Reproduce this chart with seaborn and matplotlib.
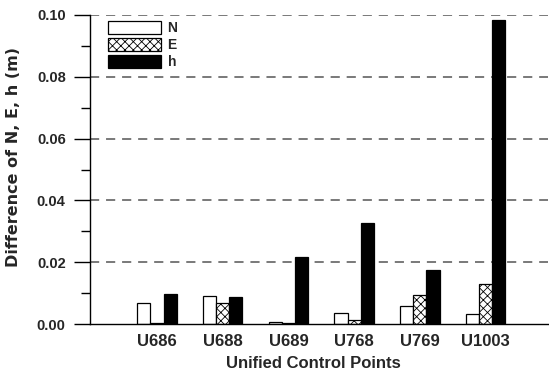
import matplotlib
matplotlib.use("Agg")
import matplotlib.pyplot as plt
from matplotlib.patches import Patch
from matplotlib.ticker import MultipleLocator, FormatStrFormatter
import seaborn as sns
import pandas as pd

points = ["U686", "U688", "U689", "U768", "U769", "U1003"]
diff_n = [0.0069, 0.0090, 0.0006, 0.0035, 0.0059, 0.0031]
diff_e = [0.0004, 0.0069, 0.0002, 0.0012, 0.0094, 0.0130]
diff_h = [0.0097, 0.0086, 0.0216, 0.0326, 0.0174, 0.0983]
components = ["N", "E", "h"]

df = pd.DataFrame({
    "point": points * 3,
    "component": ["N"] * 6 + ["E"] * 6 + ["h"] * 6,
    "value": diff_n + diff_e + diff_h,
})

sns.set_theme(style="white")
plt.rcParams["font.family"] = ["Liberation Sans", "DejaVu Sans"]
plt.rcParams["font.weight"] = "bold"
plt.rcParams["hatch.linewidth"] = 0.6

fig = plt.figure(figsize=(5.49, 3.75), dpi=100)
ax = fig.add_axes([0.164, 0.136, 0.834, 0.824])

palette = {"N": "white", "E": "white", "h": "black"}
sns.barplot(data=df, x="point", y="value", hue="component", hue_order=components,
            order=points, palette=palette, width=0.6, gap=0, edgecolor="black",
            linewidth=0.9, saturation=1, legend=False, ax=ax)

hatches = {"N": "", "E": "xxxx", "h": ""}
for comp, container in zip(components, ax.containers):
    for bar in container:
        bar.set_hatch(hatches[comp])

ax.set_xlim(-1.02, 5.95)
ax.set_ylim(0, 0.10)
ax.yaxis.set_major_locator(MultipleLocator(0.02))
ax.yaxis.set_minor_locator(MultipleLocator(0.01))
ax.yaxis.set_major_formatter(FormatStrFormatter("%.2f"))

for yv in [0.02, 0.04, 0.06, 0.08, 0.10]:
    ax.axhline(yv, color="#555555", lw=1.1, ls=(0, (6, 4.5)), zorder=0)

for side in ["top", "right"]:
    ax.spines[side].set_visible(False)
for side in ["left", "bottom"]:
    ax.spines[side].set_color("black")
    ax.spines[side].set_linewidth(1.0)

ax.tick_params(axis="y", which="major", direction="out", length=11.5, width=1,
               color="black", labelsize=10.5, pad=6, left=True)
ax.tick_params(axis="y", which="minor", direction="out", length=6.5, width=1,
               color="black", left=True)
ax.tick_params(axis="x", length=0, labelsize=12, pad=7)
for lbl in ax.get_xticklabels() + ax.get_yticklabels():
    lbl.set_fontweight("bold")

ax.set_xlabel("Unified Control Points", fontsize=12, fontweight="bold")
ax.xaxis.set_label_coords(0.488, -0.105)
ax.set_ylabel("Difference of N, E, h (m)", fontsize=11.5, fontweight="bold",
              family="DejaVu Sans")
ax.yaxis.set_label_coords(-0.15, 0.542)

handles = [
    Patch(facecolor="white", edgecolor="black", lw=0.9, label="N"),
    Patch(facecolor="white", edgecolor="black", lw=0.9, hatch="xxxx", label="E"),
    Patch(facecolor="black", edgecolor="black", lw=0.9, label="h"),
]
ax.legend(handles=handles, loc="upper left", bbox_to_anchor=(0.039, 0.98),
          frameon=False, handlelength=3.8, handleheight=1.0,
          labelspacing=0.22, handletextpad=0.5, borderaxespad=0, borderpad=0,
          prop={"weight": "bold", "size": 10})

fig.savefig("out.png", dpi=100)
